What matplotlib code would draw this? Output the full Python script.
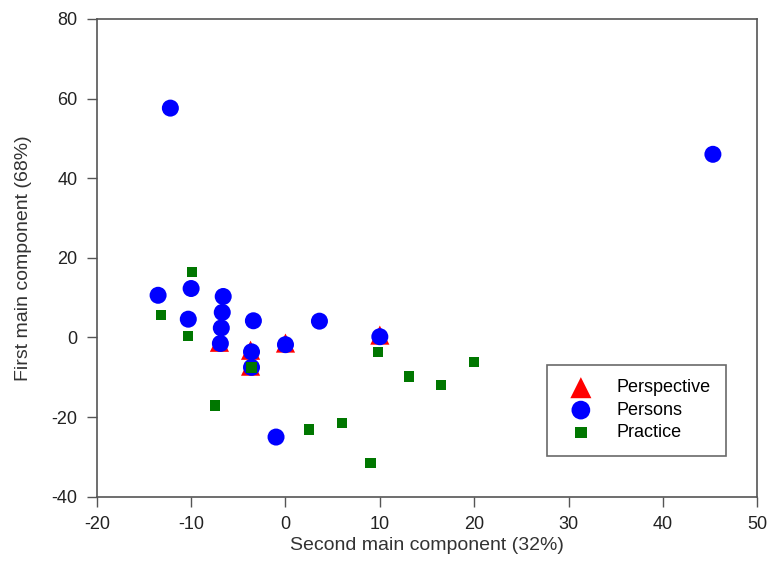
import matplotlib
matplotlib.use('Agg')
import matplotlib.pyplot as plt

plt.rcParams['font.family'] = ['Liberation Sans', 'DejaVu Sans']
plt.rcParams['axes.unicode_minus'] = False

# Perspective (red triangles)
persp_x = [-7.0, -3.7, -3.7, 0.0, 10.0]
persp_y = [-1.2, -3.2, -7.2, -1.4, 0.6]

# Persons (blue circles)
pers_x = [-12.2, 45.3, -13.5, -10.0, -6.6, -6.7, -6.8, -10.3, -3.4, 3.6,
          -6.9, 0.0, -3.6, -3.6, 10.0, -1.0]
pers_y = [57.6, 46.0, 10.6, 12.3, 10.3, 6.3, 2.4, 4.6, 4.2, 4.1,
          -1.5, -1.8, -3.6, -7.5, 0.2, -25.0]

# Practice (green squares)
prac_x = [-9.9, -13.2, -10.3, -3.6, 9.8, 13.1, 16.5, 20.0, -7.5, 2.5, 6.0, 9.0]
prac_y = [16.4, 5.6, 0.4, -7.5, -3.7, -9.8, -12.0, -6.2, -17.1, -23.1, -21.5, -31.5]

fig = plt.figure(figsize=(7.68, 5.73), dpi=100)
ax = fig.add_axes([0.126, 0.133, 0.860, 0.834])

ax.scatter(persp_x, persp_y, marker='^', s=190, color='#ff0000',
           edgecolors='none', label='Perspective', zorder=2)
ax.scatter(pers_x, pers_y, marker='o', s=150, color='#0000ff',
           edgecolors='none', label='Persons', zorder=3)
ax.scatter(prac_x, prac_y, marker='s', s=55, color='#007700',
           edgecolors='none', label='Practice', zorder=4)

ax.set_xlim(-20, 50)
ax.set_ylim(-40, 80)
ax.set_xticks(range(-20, 51, 10))
ax.set_yticks(range(-40, 81, 20))
ax.tick_params(direction='out', length=7, width=1, labelsize=13, pad=7,
               color='#555555', labelcolor='#222222', top=False, right=False)
for sp in ax.spines.values():
    sp.set_color('#555555')
    sp.set_linewidth(1.2)

ax.set_xlabel('Second main component (32%)', fontsize=14, color='#333333',
              labelpad=3)
ax.set_ylabel('First main component (68%)', fontsize=14, color='#333333',
              labelpad=14)

leg = ax.legend(loc='lower right', bbox_to_anchor=(0.952, 0.086),
                fontsize=13, frameon=True, fancybox=False, markerscale=1.1,
                borderpad=0.8, labelspacing=0.3, handletextpad=0.9,
                borderaxespad=0, handlelength=2.2)
leg.get_frame().set_edgecolor('#444444')
leg.get_frame().set_linewidth(1.2)

fig.savefig('out.png', dpi=100)
